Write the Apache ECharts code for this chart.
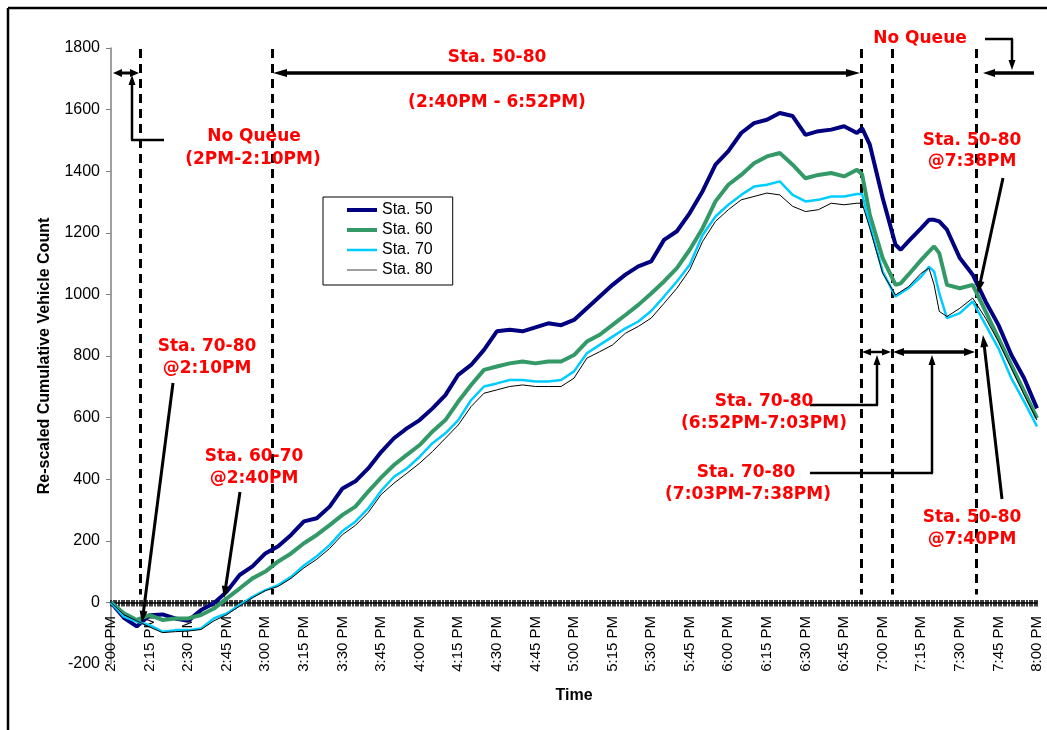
<!DOCTYPE html>
<html>
<head>
<meta charset="utf-8">
<script src="https://cdn.jsdelivr.net/npm/echarts@6/dist/echarts.min.js"></script>
<style>html,body{margin:0;padding:0;background:#fff;}#c{width:1047px;height:730px;}</style>
</head>
<body>
<div id="c"></div>
<script>
// minutes after 2:00 PM
const minutes = [0,5,10,15,20,25,30,35,40,45,50,55,60,65,70,75,80,85,90,95,100,105,110,115,120,125,130,135,140,145,150,155,160,165,170,175,180,185,190,195,200,205,210,215,220,225,230,235,240,245,250,255,260,265,270,275,280,285,290,292,295,300,305,307,310,315,318,320,322,325,330,335,340,345,350,355,360];
const sta50 = [0,-50,-78,-42,-39,-52,-60,-25,-3,35,89,117,159,182,219,263,273,311,370,393,435,488,533,565,592,630,673,739,771,820,880,885,880,893,906,900,917,955,993,1031,1064,1091,1107,1177,1205,1264,1335,1421,1465,1524,1556,1567,1589,1579,1518,1530,1535,1546,1524,1540,1486,1313,1161,1145,1172,1215,1242,1242,1237,1210,1118,1064,977,901,804,728,630];
const sta60 = [0,-35,-57,-41,-57,-52,-52,-41,-20,13,45,78,100,133,159,192,219,251,284,311,360,405,446,479,511,555,592,652,706,755,766,776,782,776,782,782,803,847,869,901,933,966,1003,1042,1085,1145,1215,1302,1356,1388,1426,1448,1459,1421,1377,1388,1394,1383,1405,1390,1258,1118,1031,1036,1064,1112,1139,1156,1134,1031,1020,1031,945,858,771,685,598];
const sta70 = [0,-46,-62,-74,-95,-90,-90,-85,-52,-36,-9,18,40,56,83,120,150,186,232,262,305,362,408,435,473,517,549,592,657,701,711,722,722,717,717,722,750,809,836,863,890,912,946,993,1042,1096,1193,1253,1291,1323,1350,1356,1367,1323,1302,1307,1318,1318,1326,1326,1226,1074,993,1004,1020,1058,1090,1074,1004,923,939,977,901,825,728,652,571];
const sta80 = [0,-40,-60,-80,-98,-95,-93,-88,-60,-40,-12,15,38,52,78,112,140,175,220,250,292,350,387,419,452,490,533,576,636,679,690,701,706,701,701,701,728,793,814,836,874,896,923,971,1020,1080,1172,1237,1275,1307,1318,1329,1323,1286,1269,1275,1296,1291,1296,1296,1215,1069,998,1009,1025,1069,1085,1031,945,928,955,988,923,847,760,674,592];
const seriesNames = ['Sta. 50','Sta. 60','Sta. 70','Sta. 80'];
const yTicks = {min:-200, max:1800, step:200};
// vertical dashed reference lines (minutes after 2:00 PM)
const refLines = [11.3, 62.6, 291.6, 303.7, 336.3];

function fmtTime(m){
  const h = 2 + Math.floor(m/60), mm = Math.round(m%60);
  return h + ':' + (mm<10?'0':'') + mm + ' PM';
}

const chart = echarts.init(document.getElementById('c'), null, {renderer:'canvas'});
const FONT = '"Liberation Sans", Arial, sans-serif';
const RED = '#ff0000';
const AFONT = 'bold 17px "DejaVu Sans", Verdana, sans-serif';

function seg(x1,y1,x2,y2,w){return {type:'line',silent:true,z:100,shape:{x1:x1,y1:y1,x2:x2,y2:y2},style:{stroke:'#000',lineWidth:w}};}
function head(tx,ty,fx,fy,len,hw){
  const a=Math.atan2(ty-fy,tx-fx),c=Math.cos(a),s=Math.sin(a);
  const bx=tx-len*c,by=ty-len*s;
  return {type:'polygon',silent:true,z:100,shape:{points:[[tx,ty],[bx-hw*s,by+hw*c],[bx+hw*s,by-hw*c]]},style:{fill:'#000'}};
}
function arrow(x1,y1,x2,y2,w,hs,he,len,hw){
  len=len||10;hw=hw||4;
  const a=Math.atan2(y2-y1,x2-x1),c=Math.cos(a),s=Math.sin(a);
  let sx=x1,sy=y1,ex=x2,ey=y2;
  if(hs){sx+=len*0.7*c;sy+=len*0.7*s;}
  if(he){ex-=len*0.7*c;ey-=len*0.7*s;}
  const out=[seg(sx,sy,ex,ey,w)];
  if(hs)out.push(head(x1,y1,x2,y2,len,hw));
  if(he)out.push(head(x2,y2,x1,y1,len,hw));
  return out;
}
function txt(t,x,y){return {type:'text',silent:true,z:101,style:{text:t,x:x,y:y,fill:RED,font:AFONT,align:'center',verticalAlign:'middle'}};}
function lineIcon(w){
  const a=7-w/2, b=7+w/2;
  return 'path://M0,0L0.01,0L0,0.01Z M0,'+a+'L30,'+a+'L30,'+b+'L0,'+b+'Z M30,14L29.99,14L30,13.99Z';
}

let g = [];
// frame
g.push({type:'line',silent:true,shape:{x1:8,y1:8,x2:1047,y2:8},style:{stroke:'#000',lineWidth:2.5}});
g.push({type:'line',silent:true,shape:{x1:8,y1:8,x2:8,y2:730},style:{stroke:'#000',lineWidth:2.5}});
// No queue left
g = g.concat(arrow(113,73,139,73,3,true,true,9,4));
g = g.concat(arrow(132,140,132,75,2.5,false,true,10,3.5));
g.push(seg(131,140,164,140,2.5));
g.push(txt('No Queue',254,137), txt('(2PM-2:10PM)',253,160));
// Sta 50-80 span
g = g.concat(arrow(273,73,860,73,3.5,true,true,14,4));
g.push(txt('Sta. 50-80',497,58), txt('(2:40PM - 6:52PM)',497,103));
// No queue right
g.push(txt('No Queue',920,39));
g.push(seg(985,39,1013,39,2.5));
g = g.concat(arrow(1012,39,1012,70,2.5,false,true,10,3.5));
g = g.concat(arrow(983,73,1034,73,3.5,true,false,12,4));
// Sta 50-80 @7:38
g.push(txt('Sta. 50-80',972,141), txt('@7:38PM',972,162));
g = g.concat(arrow(1003,178,978,293,3,false,true,12,4));
// Sta 50-80 @7:40
g.push(txt('Sta. 50-80',972,518), txt('@7:40PM',972,540));
g = g.concat(arrow(1002,499,983,335,3,false,true,12,4));
// spans at y=352
g = g.concat(arrow(862,352,891,352,2.5,true,true,9,3.5));
g = g.concat(arrow(893,352,975,352,3.5,true,true,11,4));
g = g.concat(arrow(877,405,877,355,2.5,false,true,10,3.5));
g.push(seg(810,405,878,405,2.5));
g = g.concat(arrow(932,473,932,355,2.5,false,true,10,3.5));
g.push(seg(810,473,933,473,2.5));
g.push(txt('Sta. 70-80',764,402), txt('(6:52PM-7:03PM)',764,424));
g.push(txt('Sta. 70-80',746,473), txt('(7:03PM-7:38PM)',748,495));
// left lower callouts
g.push(txt('Sta. 70-80',207,347), txt('@2:10PM',207,369));
g = g.concat(arrow(173,383,142,623,3,false,true,12,4));
g.push(txt('Sta. 60-70',254,457), txt('@2:40PM',254,479));
g = g.concat(arrow(240,492,224,598,3,false,true,12,4));

function mk(name, arr, color, width, extra){
  const s = {
    name:name, type:'line', symbol:'none', showSymbol:false, smooth:false,
    xAxisIndex:0, yAxisIndex:0,
    data: minutes.map((m,i)=>[m, arr[i]]),
    lineStyle:{color:color, width:width}, itemStyle:{color:color},
    emphasis:{disabled:true}, animation:false, z:5
  };
  return Object.assign(s, extra||{});
}

const tickStyle = {color:'#000', width:1.5};
const option = {
  backgroundColor:'#fff',
  animation:false,
  grid:[
    {left:111, top:48, width:926, height:616, containLabel:false, outerBoundsMode:'none'},
    {left:111, top:48, width:926, height:556, containLabel:false, outerBoundsMode:'none'}
  ],
  xAxis:[{
    gridIndex:0, type:'value', min:0, max:360, interval:15,
    axisLine:{show:true, onZero:true, lineStyle:{color:'#000', width:1.5}},
    axisTick:{show:true, length:4, lineStyle:tickStyle},
    minorTick:{show:true, splitNumber:15, length:4, lineStyle:tickStyle},
    splitLine:{show:false}, axisLabel:{show:false}
  },{
    gridIndex:1, type:'value', min:0, max:360, interval:15, position:'bottom',
    axisLine:{show:false, onZero:false},
    axisTick:{show:true, inside:true, length:4, lineStyle:tickStyle},
    minorTick:{show:true, splitNumber:15, length:4, lineStyle:tickStyle},
    splitLine:{show:false},
    axisLabel:{rotate:90, margin:12, fontSize:15, fontFamily:FONT, color:'#000', formatter:fmtTime, showMinLabel:true, showMaxLabel:true},
    name:'Time', nameLocation:'middle', nameGap:84, nameMoveOverlap:false,
    nameTextStyle:{fontSize:16, fontWeight:'bold', fontFamily:FONT, color:'#000'}
  }],
  yAxis:[{
    gridIndex:0, type:'value', min:yTicks.min, max:yTicks.max, interval:yTicks.step,
    axisLine:{show:true, onZero:false, lineStyle:{color:'#808080', width:1.5}},
    axisTick:{show:true, length:5, lineStyle:{color:'#808080'}},
    splitLine:{show:false},
    axisLabel:{fontSize:16, fontFamily:FONT, color:'#000', margin:11, formatter:v=>String(v)},
    name:'Re-scaled Cumulative Vehicle Count', nameLocation:'middle', nameGap:58, nameMoveOverlap:false,
    nameTextStyle:{fontSize:16, fontWeight:'bold', fontFamily:FONT, color:'#000'}
  },{
    gridIndex:1, type:'value', min:0, max:1, show:false
  }],
  legend:{
    orient:'vertical', left:323, top:197, padding:[5,20,7,24], itemGap:4,
    itemWidth:30, itemHeight:14, borderColor:'#000', borderWidth:1, backgroundColor:'#fff',
    textStyle:{fontSize:16, fontFamily:FONT, color:'#000'},
    itemStyle:{borderWidth:0},
    selectedMode:false,
    data:[
      {name:seriesNames[0], icon:lineIcon(4)},
      {name:seriesNames[1], icon:lineIcon(4)},
      {name:seriesNames[2], icon:lineIcon(2.5)},
      {name:seriesNames[3], icon:lineIcon(1.5), itemStyle:{color:'#808080'}}
    ]
  },
  series:[
    mk(seriesNames[0], sta50, '#000080', 4),
    mk(seriesNames[1], sta60, '#339966', 4),
    mk(seriesNames[2], sta70, '#00ccff', 2.5),
    mk(seriesNames[3], sta80, '#000000', 1, {
      markLine:{silent:true, symbol:'none', animation:false,
        label:{show:false},
        lineStyle:{color:'#000', width:3, type:[9,6]},
        emphasis:{disabled:true},
        data: refLines.map(m=>[{coord:[m,1797]},{coord:[m,26]}])
      }
    })
  ],
  graphic:g
};
chart.setOption(option);
</script>
</body>
</html>
